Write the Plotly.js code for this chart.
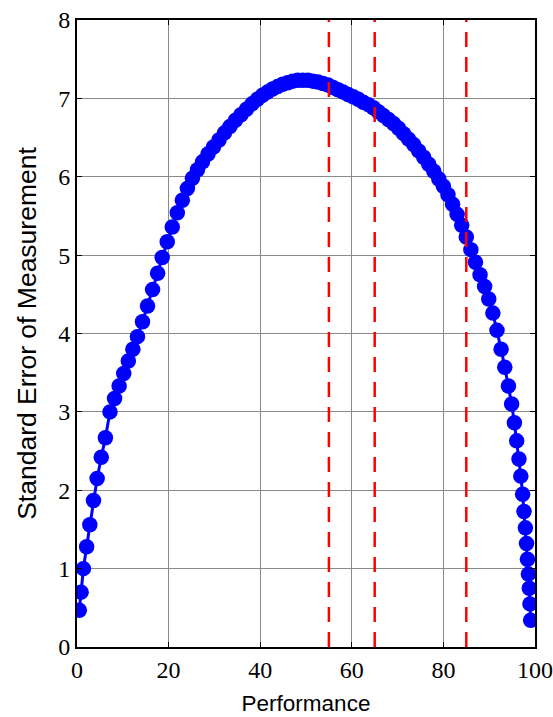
<!DOCTYPE html>
<html>
<head>
<meta charset="utf-8">
<script src="https://cdn.plot.ly/plotly-3.0.1.min.js"></script>
<style>html,body{margin:0;padding:0;background:#fff;}#chart{width:553px;height:717px;}</style>
</head>
<body>
<div id="chart"></div>
<script>
// Performance (x) values of the plotted points
const performance = [0.5, 0.9, 1.4, 2.1, 2.8, 3.6, 4.4, 5.3, 6.2, 7.2, 8.2, 9.2, 10.2, 11.2, 12.2, 13.2, 14.3, 15.4, 16.5, 17.6, 18.6, 19.7, 20.8, 21.9, 23.0, 24.1, 25.2, 26.3, 27.4, 28.6, 29.8, 31.0, 32.2, 33.4, 34.6, 35.8, 37.0, 38.2, 39.4, 40.5, 41.6, 42.7, 43.8, 44.9, 46.0, 47.1, 48.2, 49.3, 50.4, 51.5, 52.6, 53.7, 54.8, 55.9, 57.0, 58.1, 59.2, 60.3, 61.4, 62.5, 63.6, 64.7, 65.8, 66.9, 68.0, 69.1, 70.2, 71.3, 72.4, 73.5, 74.6, 75.7, 76.8, 77.9, 79.0, 80.0, 81.0, 82.0, 83.0, 84.0, 85.0, 86.0, 87.0, 88.0, 89.0, 89.9, 90.8, 91.7, 92.6, 93.4, 94.2, 94.9, 95.5, 96.0, 96.5, 96.9, 97.3, 97.6, 97.9, 98.15, 98.35, 98.55, 98.75, 98.9, 99.05];
// Standard error of measurement at each point
const sem = [0.47, 0.70, 1.00, 1.28, 1.56, 1.87, 2.15, 2.42, 2.67, 3.00, 3.17, 3.33, 3.49, 3.65, 3.80, 3.96, 4.15, 4.35, 4.56, 4.77, 4.97, 5.17, 5.36, 5.54, 5.70, 5.85, 5.98, 6.09, 6.19, 6.29, 6.38, 6.47, 6.56, 6.64, 6.72, 6.79, 6.86, 6.93, 6.99, 7.04, 7.08, 7.12, 7.15, 7.18, 7.20, 7.22, 7.23, 7.23, 7.23, 7.22, 7.21, 7.19, 7.17, 7.14, 7.11, 7.08, 7.05, 7.02, 6.99, 6.95, 6.92, 6.88, 6.83, 6.78, 6.73, 6.68, 6.62, 6.55, 6.48, 6.41, 6.33, 6.25, 6.16, 6.07, 5.97, 5.88, 5.77, 5.65, 5.52, 5.38, 5.23, 5.07, 4.91, 4.75, 4.60, 4.44, 4.26, 4.04, 3.80, 3.57, 3.33, 3.10, 2.86, 2.63, 2.40, 2.18, 1.95, 1.73, 1.52, 1.32, 1.12, 0.93, 0.75, 0.55, 0.34];
// Red dashed cut-off lines (performance values)
const cutoffs = [55, 65, 85];
const xTicks = [0, 20, 40, 60, 80, 100];
const yTicks = [0, 1, 2, 3, 4, 5, 6, 7, 8];

const traces = [{
  x: performance, y: sem, type: 'scatter', mode: 'lines+markers',
  line: {color: '#0000ff', width: 3},
  marker: {color: '#0000ff', size: 15.5},
  showlegend: false, hoverinfo: 'skip'
}];

const shapes = cutoffs.map(c => ({
  type: 'line', xref: 'x', yref: 'paper', x0: c, x1: c, y0: 0, y1: 1,
  line: {color: '#ff0000', width: 2.5, dash: '15px,10px'}
}));

const tickFont = {family: 'Liberation Serif, DejaVu Serif, serif', size: 24, color: '#000'};

const layout = {
  width: 553, height: 717,
  margin: {l: 77, r: 18, t: 20, b: 70},
  paper_bgcolor: '#fff', plot_bgcolor: '#fff',
  shapes: shapes,
  xaxis: {
    range: [0, 100], tickvals: xTicks, ticktext: xTicks.map(String),
    showgrid: true, gridcolor: '#8a8a8a', gridwidth: 1, zeroline: false,
    showline: true, linecolor: '#000', linewidth: 2, mirror: 'ticks',
    ticks: 'inside', ticklen: 5, tickcolor: '#000',
    tickfont: tickFont,
    title: {text: 'Performance', font: {family: 'Liberation Sans, Arial, sans-serif', size: 22.5, color: '#000'}, standoff: 13}
  },
  yaxis: {
    range: [0, 8], tickvals: yTicks, ticktext: yTicks.map(String),
    showgrid: true, gridcolor: '#8a8a8a', gridwidth: 1, zeroline: false,
    showline: true, linecolor: '#000', linewidth: 2, mirror: 'ticks',
    ticks: 'inside', ticklen: 5, tickcolor: '#000',
    tickfont: tickFont,
    title: {text: 'Standard Error of Measurement', font: {family: 'Liberation Sans, Arial, sans-serif', size: 26.5, color: '#000'}, standoff: 14}
  }
};

Plotly.newPlot('chart', traces, layout, {staticPlot: true, displayModeBar: false});
</script>
</body>
</html>
